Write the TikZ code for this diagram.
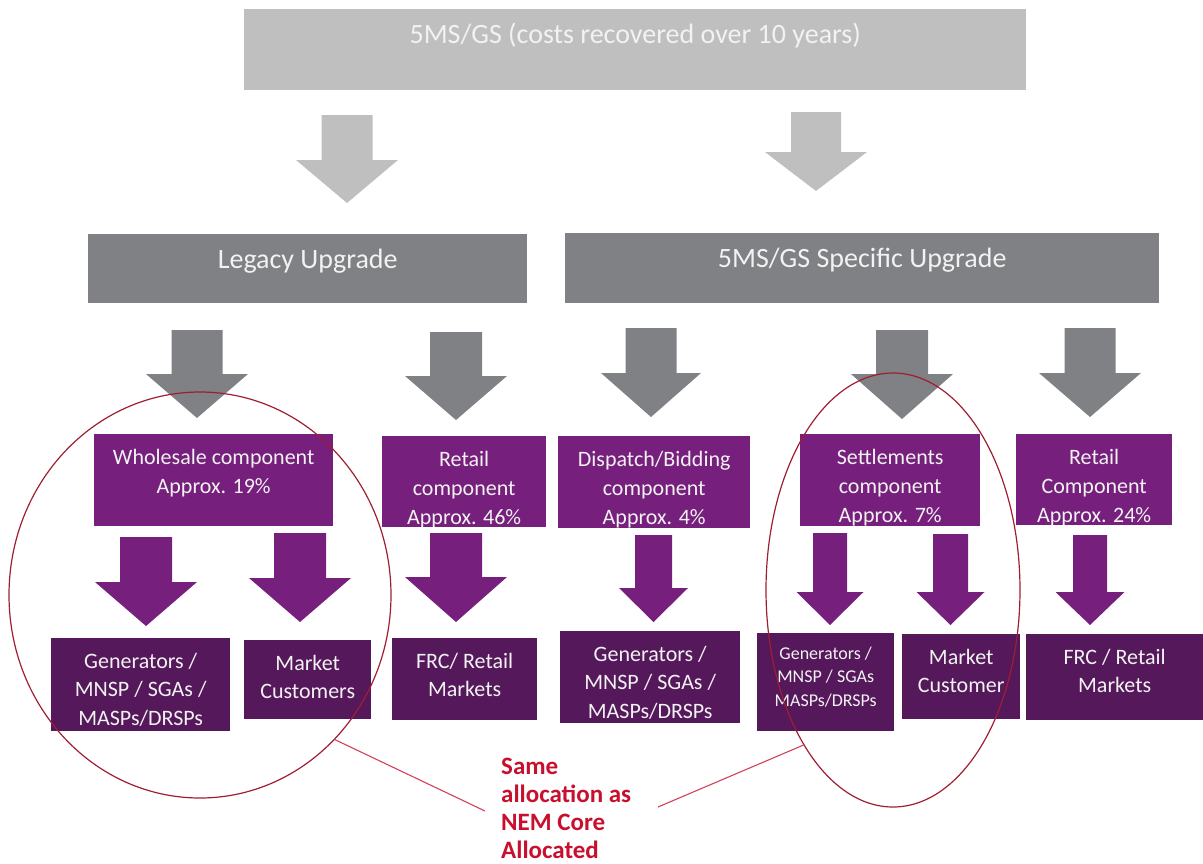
\documentclass[tikz,border=0pt]{standalone}
\usepackage{fontspec}
\setmainfont{Carlito}
\usetikzlibrary{positioning,shapes.geometric}

\definecolor{topgrey}{RGB}{191,191,191}
\definecolor{midgrey}{RGB}{127,129,132}
\definecolor{plum}{RGB}{118,31,124}
\definecolor{darkplum}{RGB}{85,24,90}
\definecolor{ringred}{RGB}{160,30,50}
\definecolor{notered}{RGB}{200,16,46}
\definecolor{paletext}{RGB}{242,242,242}

% lines stacked from the first baseline down
\newcommand{\stacklines}[1]{\begin{tabular}[t]{@{}c@{}}#1\end{tabular}}

\tikzset{
  upgradebox/.style={fill=midgrey, text=paletext, inner sep=0pt, anchor=north west,
    font=\fontsize{28}{34}\selectfont},
  compbox/.style={fill=plum, text=paletext, inner sep=0pt, anchor=north west,
    text height=30pt, font=\fontsize{22}{29}\selectfont},
  partybox/.style={fill=darkplum, text=paletext, inner sep=0pt, anchor=north west,
    text height=30pt, font=\fontsize{22}{28.5}\selectfont},
  ring/.style={draw=ringred, line width=1.2pt, ellipse, inner sep=0pt},
  pointer/.style={draw=notered!80, line width=1.1pt}
}

\begin{document}
\begin{tikzpicture}[x=1pt, y=-1pt]
		\useasboundingbox (0,0) rectangle (1203,863);

		% Top level
		\node[upgradebox, fill=topgrey, minimum width=782pt, text height=34pt, text depth=47pt] (total) at (244,9) {5MS/GS (costs recovered over 10 years)};

		% Light grey arrows
		\foreach \cx/\ya/\yb/\yc/\hs/\hh in {347/115/160/203/25.5/51, 816/112/152/191/25/51}
			\fill[topgrey] (\cx-\hs,\ya) -- (\cx+\hs,\ya) -- (\cx+\hs,\yb) -- (\cx+\hh,\yb) -- (\cx,\yc) -- (\cx-\hh,\yb) -- (\cx-\hs,\yb) -- cycle;

		% Upgrade level
		\node[upgradebox, minimum width=439pt, text height=34pt, text depth=35pt] (legacy) at (88,234) {Legacy Upgrade};
		\node[upgradebox, minimum width=594pt, text height=34pt, text depth=36pt] (specific) at (565,233) {5MS/GS Specific Upgrade};

		% Dark grey arrows
		\foreach \cx/\ya/\yb/\yc/\hs/\hh in {197/330/374/418/25.5/51, 456/332/376/420/26/51, 651/328/373/417/25.5/50, 902/330/374/419/26/51, 1090/328/373/417/25.5/51}
			\fill[midgrey] (\cx-\hs,\ya) -- (\cx+\hs,\ya) -- (\cx+\hs,\yb) -- (\cx+\hh,\yb) -- (\cx,\yc) -- (\cx-\hh,\yb) -- (\cx-\hs,\yb) -- cycle;

		% Components
		\node[compbox, minimum width=239pt, text depth=62pt] (wholesale) at (94,434) {\stacklines{Wholesale component\\Approx. 19\%}};
		\node[compbox, minimum width=164pt, text depth=61pt] (retailA) at (382,436) {\stacklines{Retail\\component\\Approx. 46\%}};
		\node[compbox, minimum width=192pt, text depth=62pt] (dispatch) at (558,436) {\stacklines{Dispatch/Bidding\\component\\Approx. 4\%}};
		\node[compbox, minimum width=180pt, text depth=62pt] (settle) at (800,434) {\stacklines{Settlements\\component\\Approx. 7\%}};
		\node[compbox, minimum width=156pt, text depth=61pt] (retailB) at (1016,434) {\stacklines{Retail\\Component\\Approx. 24\%}};

		% Purple arrows
		\foreach \cx/\ya/\yb/\yc/\hs/\hh in {146/537/582/626/26/51, 300/533/578/622/26/51, 456/533/577/622/26/51, 653.5/535/588/622/18.5/34.5, 830/533/592/625/17/33.5, 950.5/534/592/625/17.5/34, 1090/535/592/625/17/34.5}
			\fill[plum] (\cx-\hs,\ya) -- (\cx+\hs,\ya) -- (\cx+\hs,\yb) -- (\cx+\hh,\yb) -- (\cx,\yc) -- (\cx-\hh,\yb) -- (\cx-\hs,\yb) -- cycle;

		% Who pays
		\node[partybox, minimum width=179pt, text depth=63pt] (genA) at (51,638) {\stacklines{Generators /\\MNSP / SGAs /\\MASPs/DRSPs}};
		\node[partybox, minimum width=127pt, text depth=49pt] (custA) at (244,640) {\stacklines{Market\\Customers}};
		\node[partybox, minimum width=145pt, text depth=52pt] (frcA) at (392,638) {\stacklines{FRC/ Retail\\Markets}};
		\node[partybox, minimum width=180pt, text depth=62pt] (genB) at (560,631) {\stacklines{Generators /\\MNSP / SGAs /\\MASPs/DRSPs}};
		\node[partybox, minimum width=137pt, text height=26pt, text depth=72pt, font=\fontsize{18}{23.5}\selectfont] (genC) at (757,633) {\stacklines{Generators /\\MNSP / SGAs\\MASPs/DRSPs}};
		\node[partybox, minimum width=118pt, text depth=55pt] (custB) at (902,634) {\stacklines{Market\\Customer}};
		\node[partybox, minimum width=177pt, text depth=56pt] (frcB) at (1026,634) {\stacklines{FRC / Retail\\Markets}};

		% Same allocation rings
		\node[ring, minimum width=382pt, minimum height=406pt] (ringL) at (200,595) {};
		\node[ring, minimum width=254pt, minimum height=434pt] (ringR) at (893,590) {};

		\node[inner sep=0pt, anchor=north west, align=left, text=notered, font=\fontsize{25}{28}\selectfont\bfseries] (note) at (501,757.5) {Same\\allocation as\\NEM Core\\Allocated};
		\coordinate (noteL) at (485,811);
		\coordinate (noteR) at (658,807);
		\draw[pointer] (ringL.-47.5) -- (noteL);
		\draw[pointer] (noteR) -- (ringR.-120);
	\end{tikzpicture}
\end{document}
